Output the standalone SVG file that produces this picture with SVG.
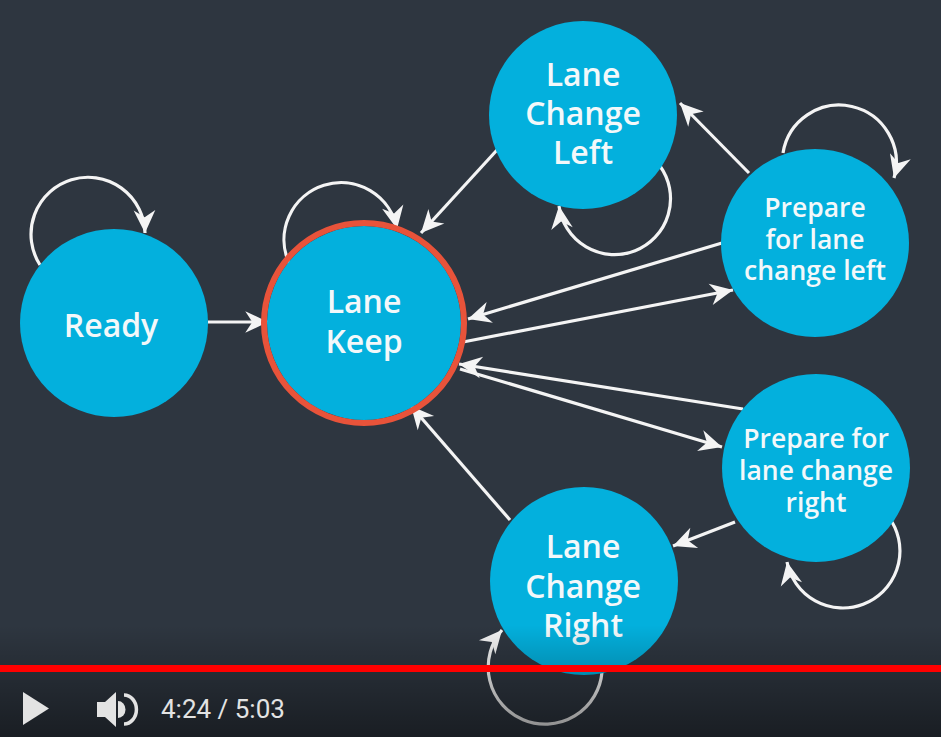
<svg xmlns="http://www.w3.org/2000/svg" width="941" height="737" viewBox="0 0 941 737">
<defs>
<style>
.node{fill:#03b0dd}
.lbl{font-family:"Open Sans","Noto Sans",sans-serif;font-weight:600;fill:#f3f8fa;text-anchor:middle}
.big{font-size:32px}
.sm{font-size:26.5px}
.edge{fill:none;stroke:#f4f4f4;stroke-width:3.2;marker-end:url(#ah)}
.ctl{fill:#e3e3e3}
</style>
<marker id="ah" markerUnits="userSpaceOnUse" markerWidth="26" markerHeight="26" viewBox="-22 -12 24 24" refX="0" refY="0" orient="auto">
<path d="M0,0 L-21,-10 L-14.5,0 L-21,10 Z" fill="#f4f4f4"/>
</marker>
<linearGradient id="shade" x1="0" y1="0" x2="0" y2="1">
<stop offset="0" stop-color="#000" stop-opacity="0"/>
<stop offset="1" stop-color="#000" stop-opacity="0.45"/>
</linearGradient>
</defs>
<rect width="941" height="737" fill="#2e3640"/>
<g id="connectors">
<path class="edge" d="M40,265 A57,57 0 1 1 145,233"/>
<path class="edge" d="M289,263 A57,57 0 1 1 397,229"/>
<path class="edge" d="M660,166 A56,56 0 1 1 559,206"/>
<path class="edge" d="M783,153 A57,57 0 1 1 894,178"/>
<path class="edge" d="M892,522 A57,57 0 1 1 787,562"/>
<path class="edge" d="M602,672 A57,57 0 1 1 502,630"/>
<line class="edge" x1="208" y1="322" x2="268" y2="322"/>
<line class="edge" x1="497" y1="150" x2="421" y2="233"/>
<line class="edge" x1="749" y1="173" x2="680" y2="103"/>
<line class="edge" x1="722" y1="243" x2="468" y2="319"/>
<line class="edge" x1="463" y1="342" x2="733" y2="290"/>
<line class="edge" x1="743" y1="409" x2="459" y2="364"/>
<line class="edge" x1="460" y1="369" x2="722" y2="447"/>
<line class="edge" x1="510" y1="520" x2="411" y2="406"/>
<line class="edge" x1="735" y1="522" x2="673" y2="546"/>
</g>
<g id="ready">
<circle class="node" cx="114" cy="323" r="94"/>
<text class="lbl big" x="111" y="337">Ready</text>
</g>
<g id="lane-keep">
<circle class="node" cx="364" cy="323" r="97"/>
<circle cx="364" cy="323" r="100" fill="none" stroke="#e8533a" stroke-width="6"/>
<text class="lbl big" x="364" y="313">Lane</text>
<text class="lbl big" x="364" y="353">Keep</text>
</g>
<g id="lane-change-left">
<circle class="node" cx="583" cy="115" r="94"/>
<text class="lbl big" x="583" y="86">Lane</text>
<text class="lbl big" x="583" y="125">Change</text>
<text class="lbl big" x="583" y="164">Left</text>
</g>
<g id="prepare-left">
<circle class="node" cx="815" cy="243" r="94"/>
<text class="lbl sm" x="815" y="217">Prepare</text>
<text class="lbl sm" x="815" y="249">for lane</text>
<text class="lbl sm" x="815" y="280">change left</text>
</g>
<g id="prepare-right">
<circle class="node" cx="816" cy="468" r="94"/>
<text class="lbl sm" x="816" y="448">Prepare for</text>
<text class="lbl sm" x="816" y="480">lane change</text>
<text class="lbl sm" x="816" y="512">right</text>
</g>
<g id="lane-change-right">
<circle class="node" cx="584" cy="581" r="94"/>
<text class="lbl big" x="583" y="558">Lane</text>
<text class="lbl big" x="583" y="598">Change</text>
<text class="lbl big" x="583" y="637">Right</text>
</g>
<rect x="0" y="625" width="941" height="112" fill="url(#shade)"/>
<rect x="0" y="665" width="941" height="7" fill="#ff0000"/>
<g id="player-controls">
<path class="ctl" d="M23,692 L49,708.5 L23,725 Z"/>
<path class="ctl" d="M97,702 L105,702 L116,692 L116,727 L105,717 L97,717 Z"/>
<path class="ctl" d="M118,701 A7.5,8.5 0 0 1 118,718 Z"/>
<path d="M124,695 A12,14 0 0 1 124,724" fill="none" stroke="#e3e3e3" stroke-width="3.5"/>
<text x="161" y="718" font-family="Roboto,'Liberation Sans',sans-serif" font-size="26" fill="#e3e3e3">4:24 / 5:03</text>
</g>
</svg>
